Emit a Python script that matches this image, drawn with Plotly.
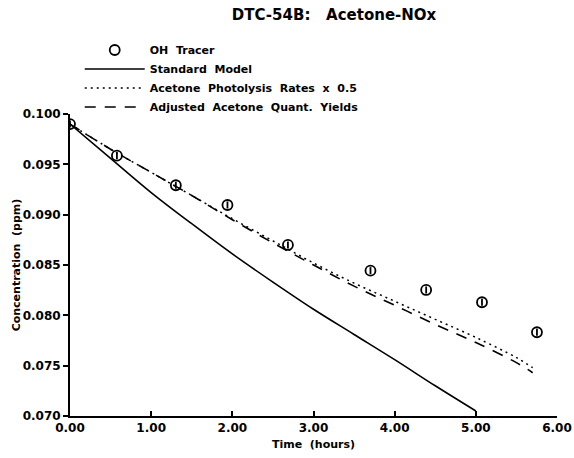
import plotly.graph_objects as go

# OH tracer observations
tracer_t = [0.0, 0.578, 1.304, 1.94, 2.685, 3.702, 4.388, 5.076, 5.753]
tracer_c = [0.0990, 0.09586, 0.09292, 0.09096, 0.08699, 0.08444, 0.08252, 0.08130, 0.07832]

# Standard model
std_t = [0.0, 0.5, 1.0, 1.5, 2.0, 2.5, 3.0, 3.5, 4.0, 4.5, 5.0]
std_c = [0.0990, 0.0956, 0.0922, 0.0891, 0.0861, 0.0833, 0.0806, 0.0781, 0.0756, 0.0730, 0.0705]

# Acetone photolysis rates x 0.5
phot_t = [0.0, 0.5, 1.0, 1.5, 2.0, 2.5, 3.0, 3.5, 4.0, 4.5, 5.0, 5.5, 5.7]
phot_c = [0.0990, 0.0965, 0.0942, 0.0919, 0.0896, 0.0874, 0.0852, 0.0832, 0.0814, 0.0796, 0.0778, 0.0758, 0.0748]

# Adjusted acetone quantum yields
adj_t = [0.0, 0.5, 1.0, 1.5, 2.0, 2.5, 3.0, 3.5, 4.0, 4.5, 5.0, 5.5, 5.7]
adj_c = [0.0990, 0.0965, 0.0942, 0.0919, 0.0895, 0.0872, 0.0850, 0.0829, 0.0810, 0.0791, 0.0773, 0.0753, 0.0743]

x_ticks = [0, 1, 2, 3, 4, 5, 6]
x_labels = ["0.00", "1.00", "2.00", "3.00", "4.00", "5.00", "6.00"]
y_ticks = [0.070, 0.075, 0.080, 0.085, 0.090, 0.095, 0.100]
y_labels = ["0.070", "0.075", "0.080", "0.085", "0.090", "0.095", "0.100"]

FONT = "DejaVu Sans"

fig = go.Figure()
fig.add_trace(go.Scatter(
    x=tracer_t, y=tracer_c, mode="markers", name="OH  Tracer",
    marker=dict(symbol="circle-open", size=10, color="black", line=dict(width=1.8)),
))
fig.add_trace(go.Scatter(
    x=std_t, y=std_c, mode="lines", name="Standard  Model",
    line=dict(color="black", width=1.6, shape="spline"),
))
fig.add_trace(go.Scatter(
    x=phot_t, y=phot_c, mode="lines", name="Acetone  Photolysis  Rates  x  0.5",
    line=dict(color="black", width=1.5, dash="2px,4px", shape="spline"),
))
fig.add_trace(go.Scatter(
    x=adj_t, y=adj_c, mode="lines", name="Adjusted  Acetone  Quant.  Yields",
    line=dict(color="black", width=1.6, dash="11px,9px", shape="spline"),
))
# small tick inside tracer symbol
fig.add_trace(go.Scatter(
    x=tracer_t, y=tracer_c, mode="markers", showlegend=False, hoverinfo="skip",
    marker=dict(symbol="line-ns-open", size=5, color="black", line=dict(width=1.8, color="black")),
))

fig.update_layout(
    width=574, height=458,
    margin=dict(l=70, r=17, t=114, b=42),
    paper_bgcolor="white", plot_bgcolor="white",
    font=dict(family=FONT, color="black", size=12, weight="bold"),
    title=dict(text="DTC-54B:   Acetone-NOx", x=0.582, xanchor="center", y=0.967, yanchor="middle",
               font=dict(family=FONT, size=15, color="black", weight="bold")),
    showlegend=True,
    legend=dict(x=0.02, xanchor="left", y=1.26, yanchor="top", bgcolor="rgba(0,0,0,0)",
                font=dict(family=FONT, size=11, weight="bold"), itemwidth=60, tracegroupgap=0),
    xaxis=dict(range=[0, 6], tickvals=x_ticks, ticktext=x_labels, showgrid=False, zeroline=False,
               showline=True, linecolor="black", linewidth=2, ticks="inside", ticklen=5, tickwidth=1.5,
               tickcolor="black", tickfont=dict(size=12), automargin=False,
               title=dict(text="Time  (hours)", standoff=6, font=dict(size=11, weight="bold"))),
    yaxis=dict(range=[0.070, 0.100], tickvals=y_ticks, ticktext=y_labels, showgrid=False, zeroline=False,
               showline=True, linecolor="black", linewidth=2, ticks="outside", ticklen=5, tickwidth=1.5,
               tickcolor="black", tickfont=dict(size=12), automargin=False,
               title=dict(text="Concentration  (ppm)", standoff=0, font=dict(size=11, weight="bold"))),
)

fig.write_html("out.html")
